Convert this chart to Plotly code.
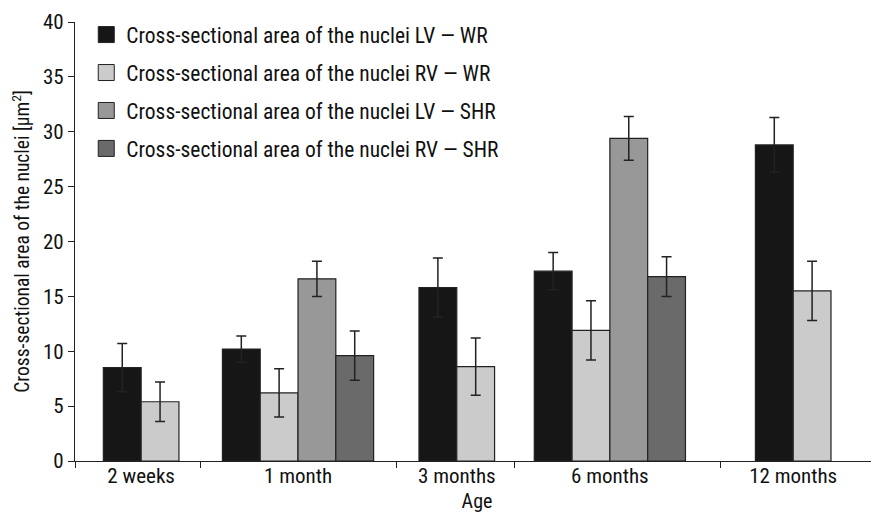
import plotly.graph_objects as go

categories = ["2 weeks", "1 month", "3 months", "6 months", "12 months"]
series_names = [
    "Cross-sectional area of the nuclei LV — WR",
    "Cross-sectional area of the nuclei RV — WR",
    "Cross-sectional area of the nuclei LV — SHR",
    "Cross-sectional area of the nuclei RV — SHR",
]
lv_wr = [8.5, 10.2, 15.8, 17.3, 28.8]
lv_wr_err = [2.2, 1.2, 2.7, 1.7, 2.5]
rv_wr = [5.4, 6.2, 8.6, 11.9, 15.5]
rv_wr_err = [1.8, 2.2, 2.6, 2.7, 2.7]
lv_shr = [None, 16.6, None, 29.4, None]
lv_shr_err = [None, 1.6, None, 2.0, None]
rv_shr = [None, 9.6, None, 16.8, None]
rv_shr_err = [None, 2.25, None, 1.8, None]

values = [lv_wr, rv_wr, lv_shr, rv_shr]
errors = [lv_wr_err, rv_wr_err, lv_shr_err, rv_shr_err]
colors = ["#161616", "#cbcbcb", "#989898", "#6a6a6a"]

# layout: group centres along the axis, in bar-width units
group_pos = [1.75, 5.9, 10.1, 14.15, 19.0]
x_max = 21.27

n_present = [sum(v[i] is not None for v in values) for i in range(len(categories))]

FONT = "Roboto Condensed, Liberation Sans Narrow, Arial Narrow, sans-serif"
EDGE = "#222222"

fig = go.Figure()
for k, (name, vals, errs, col) in enumerate(zip(series_names, values, errors, colors)):
    xs, ys, es, offs = [], [], [], []
    for i, v in enumerate(vals):
        if v is None:
            continue
        rank = sum(values[j][i] is not None for j in range(k))
        xs.append(group_pos[i])
        ys.append(v)
        es.append(errs[i])
        offs.append(rank - n_present[i] / 2)
    fig.add_trace(go.Bar(
        x=xs, y=ys, name=name, width=1, offset=offs, showlegend=False,
        marker=dict(color=col, line=dict(color=EDGE, width=1.2)),
        error_y=dict(type="data", array=es, visible=True, color=EDGE,
                     thickness=1.5, width=5),
    ))

# legend entries with larger square swatches
for name, col in zip(series_names, colors):
    fig.add_trace(go.Scatter(
        x=[None], y=[None], mode="markers", name=name, legendgroup=name,
        marker=dict(symbol="square", size=16, color=col,
                    line=dict(color=EDGE, width=1)),
    ))

# boundary ticks between groups
bounds = [0]
for i in range(len(categories) - 1):
    end_i = group_pos[i] + n_present[i] / 2
    start_n = group_pos[i + 1] - n_present[i + 1] / 2
    bounds.append((end_i + start_n) / 2)

fig.add_trace(go.Scatter(x=[None], y=[None], xaxis="x2", showlegend=False))

fig.update_layout(
    width=871, height=506,
    margin=dict(l=67, r=0, t=14, b=53),
    paper_bgcolor="white", plot_bgcolor="white",
    font=dict(family=FONT, size=20, color="#111111"),
    barmode="overlay",
    showlegend=True,
    legend=dict(x=0.014, y=1.018, xanchor="left", yanchor="top",
                bgcolor="rgba(0,0,0,0)", font=dict(size=21.5),
                traceorder="grouped", tracegroupgap=7,
                itemsizing="trace", itemwidth=30),
    xaxis=dict(range=[0, x_max], tickvals=bounds, showticklabels=False,
               ticks="outside", ticklen=6, tickcolor=EDGE,
               showline=True, linecolor=EDGE, linewidth=1.2,
               showgrid=False, zeroline=False, fixedrange=True),
    xaxis2=dict(range=[0, x_max], overlaying="x", anchor="y", side="bottom",
                tickvals=group_pos, ticktext=categories, ticks="",
                showline=False, showgrid=False, zeroline=False,
                title=dict(text="Age", standoff=6, font=dict(size=20)),
                tickfont=dict(size=21)),
    yaxis=dict(range=[0, 40], dtick=5, ticks="outside", ticklen=6,
               tickcolor=EDGE, showline=True, linecolor=EDGE,
               linewidth=1.2, showgrid=False, zeroline=False,
               title=dict(text="Cross-sectional area of the nuclei [μm<sup>2</sup>]",
                          standoff=8, font=dict(size=19.5)),
               tickfont=dict(size=21)),
)

fig.write_html("out.html")
